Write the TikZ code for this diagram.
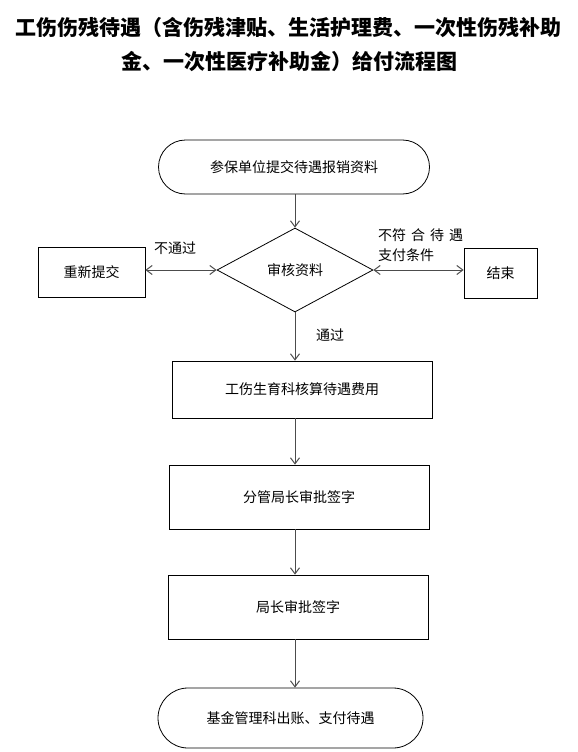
\documentclass[tikz,border=0pt]{standalone}
\usepackage{fontspec}
\setmainfont{Noto Sans CJK SC}
\usetikzlibrary{arrows.meta,shapes.geometric,shapes.misc}

\begin{document}
\begin{tikzpicture}[x=1pt,y=-1pt,
  box/.style={draw,line width=0.8pt,inner sep=0pt,font=\fontsize{14}{16}\selectfont},
  oval/.style={box,rounded rectangle},
  flow/.style={draw=black!70,line width=1pt,-{Straight Barb[length=6pt,width=9pt]}},
  both/.style={flow,{Straight Barb[length=6pt,width=9pt]}-{Straight Barb[length=6pt,width=9pt]}},
  lbl/.style={font=\fontsize{14}{20}\selectfont,inner sep=0pt}]
\useasboundingbox[fill=white] (0,0) rectangle (578,752);

% title
\node[font=\fontsize{21}{24}\selectfont\bfseries] (title1) at (289,28) {工伤伤残待遇（含伤残津贴、生活护理费、一次性伤残补助};
\node[font=\fontsize{21}{24}\selectfont\bfseries] (title2) at (289,62) {金、一次性医疗补助金）给付流程图};

% nodes
\node[oval,minimum width=271pt,minimum height=54pt] (start) at (294,167) {参保单位提交待遇报销资料};
\node[box,diamond,aspect=1.86,minimum width=156pt,minimum height=84pt] (check) at (295,270) {审核资料};
\node[box,minimum width=107pt,minimum height=50pt] (resub) at (91.5,272) {重新提交};
\node[box,minimum width=73pt,minimum height=50pt] (stop) at (500.5,273) {结束};
\node[box,minimum width=260pt,minimum height=57pt] (calc) at (302,389.5) {工伤生育科核算待遇费用};
\node[box,minimum width=260pt,minimum height=64pt] (sign1) at (299,497) {分管局长审批签字};
\node[box,minimum width=260pt,minimum height=64pt] (sign2) at (298,607) {局长审批签字};
\node[oval,minimum width=265pt,minimum height=60pt] (pay) at (290.5,718) {基金管理科出账、支付待遇};

% labels
\node[lbl] (nopass) at (175,248) {不通过};
\node[lbl,anchor=west,align=left] (nofit) at (378,245) {不符\hspace{5pt}合\hspace{5pt}待\hspace{5pt}遇\\支付条件};
\node[lbl] (pass) at (330,335) {通过};

% connectors
\draw[flow] (start.south -| check.north) -- (check.north);
\draw[flow] (check.south) -- (check.south |- calc.north);
\draw[flow] (check.south |- calc.south) -- (check.south |- sign1.north);
\draw[flow] (check.south |- sign1.south) -- (check.south |- sign2.north);
\draw[flow] (check.south |- sign2.south) -- (check.south |- pay.north);
\draw[both] (resub.east |- check.west) -- (check.west);
\draw[both] (check.east) -- (stop.west |- check.east);
\end{tikzpicture}
\end{document}
